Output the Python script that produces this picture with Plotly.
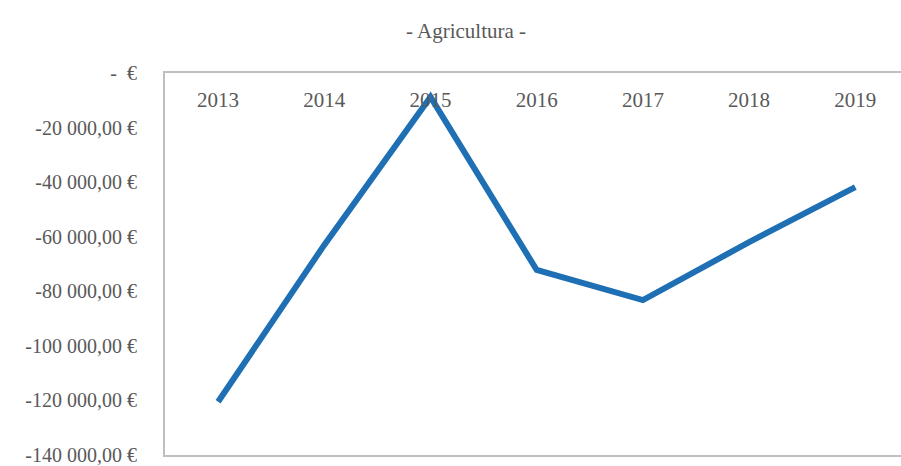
import plotly.graph_objects as go

# Yearly balance for the agriculture sector (EUR)
years = ["2013", "2014", "2015", "2016", "2017", "2018", "2019"]
values = [-120500, -63000, -8800, -72200, -83200, -62000, -41800]

tick_vals = [0, -20000, -40000, -60000, -80000, -100000, -120000, -140000]
tick_text = ["-  €", "-20 000,00 €", "-40 000,00 €", "-60 000,00 €",
             "-80 000,00 €", "-100 000,00 €", "-120 000,00 €", "-140 000,00 €"]

W, H = 901, 466
M_L, M_T, M_B = 165, 73, 11
font_family = "Liberation Serif, Times New Roman, serif"
text_color = "#595959"
axis_color = "#bfbfbf"
x_range = [-0.5, -0.5 + (W - M_L) / 106.2]

# year labels sit just under the top border, inside the frame
label_base_px = 111
plot_h = H - M_T - M_B
label_axis_pos = (H - M_B - label_base_px) / plot_h

fig = go.Figure()
fig.add_trace(go.Scatter(
    x=years, y=values, mode="lines",
    line=dict(color="#1f6fb4", width=6),
    showlegend=False, hoverinfo="skip",
))
# carrier for the year labels axis
fig.add_trace(go.Scatter(
    x=years, y=values, mode="lines", xaxis="x2",
    line=dict(color="rgba(0,0,0,0)", width=0),
    showlegend=False, hoverinfo="skip",
))

fig.update_layout(
    width=W, height=H,
    margin=dict(l=M_L, r=0, t=M_T, b=M_B),
    paper_bgcolor="white", plot_bgcolor="white",
    font=dict(family=font_family, color=text_color, size=21),
    title=dict(text="- Agricultura -", x=466 / W, xanchor="center",
               y=1 - 31 / H, yanchor="middle",
               font=dict(family=font_family, size=21, color=text_color)),
    xaxis=dict(
        type="category", side="top", range=x_range,
        showgrid=False, zeroline=False, automargin=False,
        showline=True, linecolor=axis_color, linewidth=2, mirror=True,
        ticks="", showticklabels=False,
    ),
    xaxis2=dict(
        type="category", side="top", overlaying="x", matches="x",
        anchor="free", position=label_axis_pos,
        showgrid=False, zeroline=False, automargin=False,
        showline=False, ticks="", ticklabelstandoff=0,
        tickfont=dict(size=21, color=text_color, family=font_family),
    ),
    yaxis=dict(
        range=[-140000, 0],
        tickvals=tick_vals, ticktext=tick_text,
        showgrid=False, zeroline=False, automargin=False,
        showline=True, linecolor=axis_color, linewidth=2,
        ticks="", ticklabelstandoff=22, ticklabeloverflow="allow",
        tickfont=dict(size=20, color=text_color, family=font_family),
    ),
)

fig.write_html("out.html")
